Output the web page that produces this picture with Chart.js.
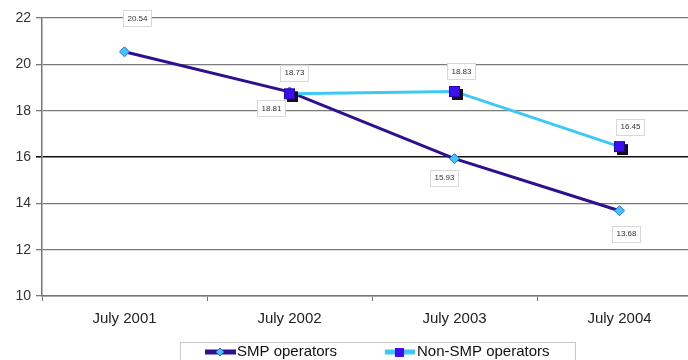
<!DOCTYPE html>
<html>
<head>
<meta charset="utf-8">
<script src="https://cdn.jsdelivr.net/npm/chart.js@4/dist/chart.umd.min.js"></script>
<style>
  html, body { margin: 0; padding: 0; background: #fff; }
  #wrap { width: 688px; height: 360px; overflow: hidden; position: relative; }
  #chart { display: block; }
</style>
</head>
<body>
<div id="wrap"><canvas id="chart" width="720" height="360"></canvas></div>
<script>
// data
const categories = ["July 2001", "July 2002", "July 2003", "July 2004"];
const smpValues = [20.54, 18.81, 15.93, 13.68];
const nonSmpValues = [null, 18.73, 18.83, 16.45];
const smpLabels = ["20.54", "18.81", "15.93", "13.68"];
const nonSmpLabels = [null, "18.73", "18.83", "16.45"];
const seriesNames = ["SMP operators", "Non-SMP operators"];
const yMin = 10, yMax = 22, yStep = 2;

// label placement relative to each point (dx, dy of box centre)
const smpOffsets = [[13, -34], [-18, 16], [-10, 19], [7, 23]];
const nonSmpOffsets = [null, [5, -21], [7, -20], [11, -20]];

const DARK = "#2e0f8f";
const LIGHT = "#3ccaf5";
const SQUARE = "#3a10f0";
const FONT = "'Liberation Sans', Arial, sans-serif";

// square marker with a dark drop shadow, square centred in the image
function makeSquare() {
  const c = document.createElement("canvas");
  c.width = 17; c.height = 17;
  const g = c.getContext("2d");
  g.fillStyle = "#111";
  g.fillRect(6, 6, 11, 11);
  g.fillStyle = SQUARE;
  g.fillRect(3, 3, 11, 11);
  g.strokeStyle = "#2a00b0";
  g.lineWidth = 1;
  g.strokeRect(3.5, 3.5, 10, 10);
  return c;
}
const squareImg = makeSquare();

const labelBoxes = {
  id: "labelBoxes",
  afterDatasetsDraw(chart) {
    const ctx = chart.ctx;
    const sets = [[0, smpLabels, smpOffsets], [1, nonSmpLabels, nonSmpOffsets]];
    ctx.save();
    ctx.font = "8px " + FONT;
    ctx.textAlign = "center";
    ctx.textBaseline = "middle";
    sets.forEach(([idx, labels, offs]) => {
      const meta = chart.getDatasetMeta(idx);
      meta.data.forEach((pt, i) => {
        if (!labels[i] || pt.skip) return;
        const cx = pt.x + offs[i][0];
        const cy = pt.y + offs[i][1];
        const w = ctx.measureText(labels[i]).width + 8;
        const h = 16;
        ctx.fillStyle = "#fff";
        ctx.fillRect(cx - w / 2, cy - h / 2, w, h);
        ctx.strokeStyle = "#d8d8d8";
        ctx.lineWidth = 1;
        ctx.strokeRect(Math.round(cx - w / 2) + 0.5, Math.round(cy - h / 2) + 0.5, Math.round(w), h);
        ctx.fillStyle = "#333";
        ctx.fillText(labels[i], cx, cy + 0.5);
      });
    });
    ctx.restore();
  }
};

// legend with line + marker icons, inside a grey box
const boxLegend = {
  id: "boxLegend",
  afterDraw(chart) {
    const ctx = chart.ctx;
    const top = 342, left = 180, right = 575;
    ctx.save();
    ctx.strokeStyle = "#c8c8c8";
    ctx.lineWidth = 1;
    ctx.strokeRect(left + 0.5, top + 0.5, right - left, 40);
    const cy = 352;
    ctx.font = "15px " + FONT;
    ctx.textBaseline = "middle";
    // SMP
    ctx.strokeStyle = DARK; ctx.lineWidth = 5;
    ctx.beginPath(); ctx.moveTo(205, cy); ctx.lineTo(236, cy); ctx.stroke();
    ctx.fillStyle = LIGHT; ctx.strokeStyle = "#3a5bff"; ctx.lineWidth = 1;
    ctx.beginPath(); ctx.moveTo(220, cy - 4); ctx.lineTo(224, cy); ctx.lineTo(220, cy + 4); ctx.lineTo(216, cy); ctx.closePath(); ctx.fill(); ctx.stroke();
    ctx.fillStyle = "#111";
    ctx.fillText(seriesNames[0], 237, cy);
    // Non-SMP
    ctx.strokeStyle = LIGHT; ctx.lineWidth = 5;
    ctx.beginPath(); ctx.moveTo(385, cy); ctx.lineTo(415, cy); ctx.stroke();
    ctx.fillStyle = SQUARE;
    ctx.fillRect(395, cy - 4, 9, 9);
    ctx.fillStyle = "#111";
    ctx.fillText(seriesNames[1], 417, cy);
    ctx.restore();
  }
};

new Chart(document.getElementById("chart"), {
  type: "line",
  data: {
    labels: categories,
    datasets: [
      {
        label: seriesNames[0],
        data: smpValues,
        borderColor: DARK,
        borderWidth: 3,
        pointStyle: "rectRot",
        pointRadius: 5,
        pointBackgroundColor: LIGHT,
        pointBorderColor: "#3a5bff",
        pointBorderWidth: 1,
        tension: 0,
        order: 2,
      },
      {
        label: seriesNames[1],
        data: nonSmpValues,
        borderColor: LIGHT,
        borderWidth: 3,
        pointStyle: squareImg,
        pointRadius: 6,
        tension: 0,
        spanGaps: false,
        order: 1,
      },
    ],
  },
  options: {
    responsive: false,
    animation: false,
    events: [],
    layout: { padding: { top: 18, right: 18, left: 0, bottom: 0 } },
    scales: {
      x: {
        type: "category",
        offset: true,
        grid: {
          offset: true,
          drawOnChartArea: false,
          drawTicks: true,
          tickLength: 5,
          color: "#777",
          lineWidth: 1,
        },
        border: { color: "#777", width: 1.5 },
        ticks: { color: "#222", font: { family: FONT, size: 15 }, padding: 9 },
        afterFit: s => { s.height = 64; },
      },
      y: {
        min: yMin,
        max: yMax,
        ticks: {
          stepSize: yStep,
          color: "#333",
          font: { family: FONT, size: 14 },
          padding: 5,
        },
        grid: {
          color: c => (c.tick && c.tick.value === 16 ? "#111" : "#7a7a7a"),
          lineWidth: c => (c.tick && c.tick.value === 16 ? 1.6 : 1.3),
          tickLength: 6,
          drawTicks: true,
        },
        border: { color: "#777", width: 1.5 },
        afterFit: s => { s.width = 42; },
      },
    },
    plugins: {
      legend: { display: false },
      tooltip: { enabled: false },
      title: { display: false },
    },
  },
  plugins: [labelBoxes, boxLegend],
});
</script>
</body>
</html>
